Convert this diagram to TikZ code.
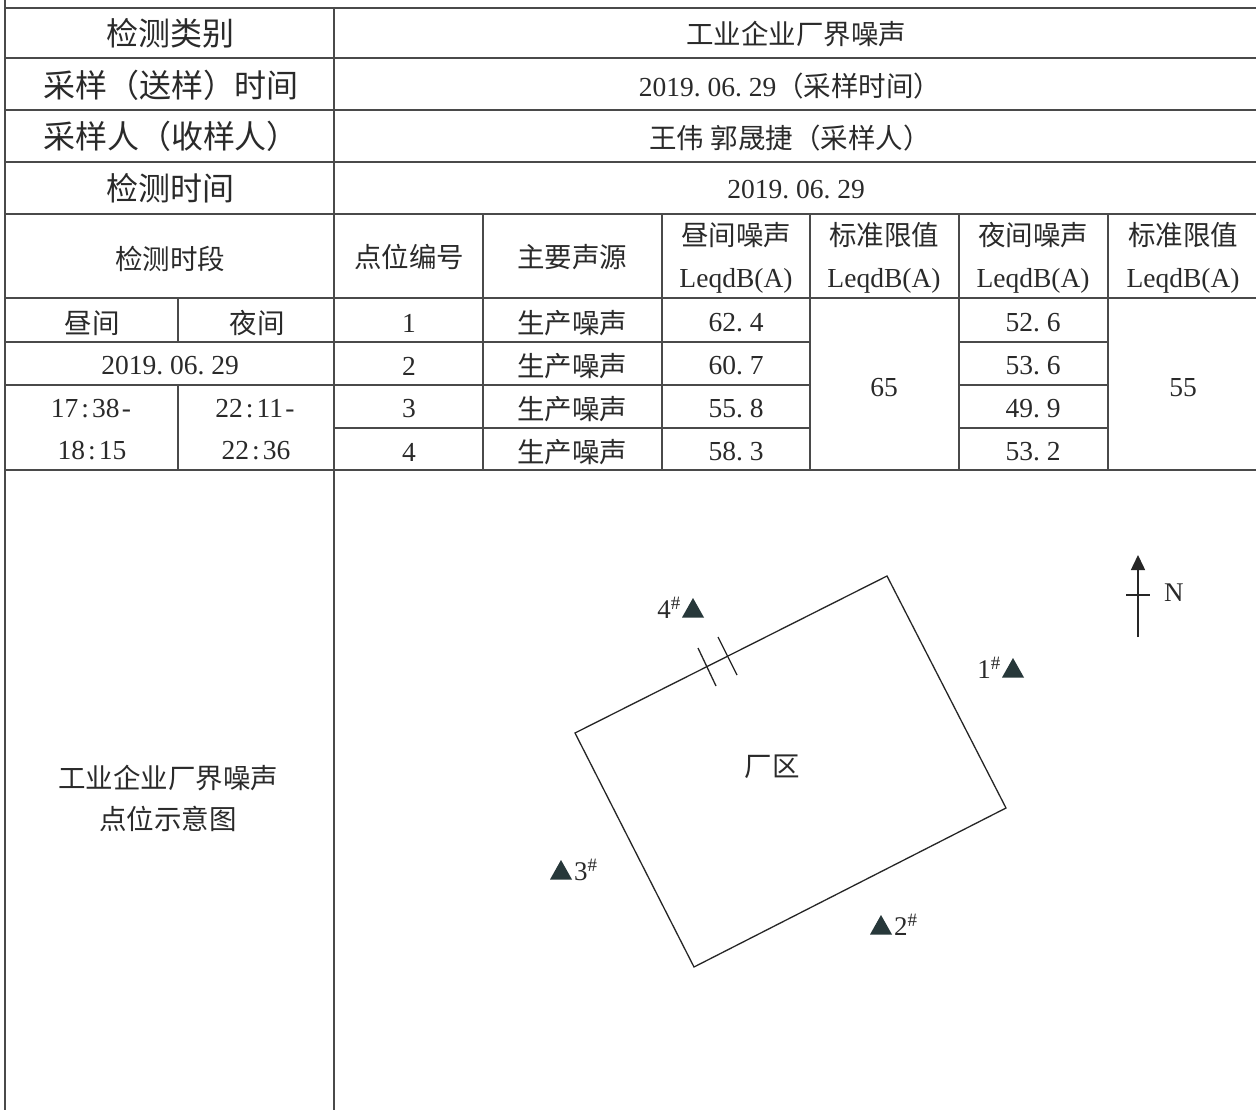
\documentclass[tikz,border=0pt]{standalone}
\usepackage{fontspec}
\setmainfont{Liberation Serif}
\newfontfamily\cjk{Noto Sans CJK SC}
\usetikzlibrary{arrows.meta}
\definecolor{ink}{HTML}{2A2A2A}
\definecolor{linegray}{HTML}{4A4A4A}
\definecolor{trifill}{HTML}{27383A}
\newcommand\dotsp{.\kern0.25em}
\newcommand\hw[1]{\makebox[0.5em]{#1}}
\newcommand\shp{\textsuperscript{\#}}
\tikzset{
  grid/.style={draw=linegray, line width=1.4pt},
  hd/.style={font=\cjk\fontsize{32}{38}\selectfont, text=ink, inner sep=0pt},
  tx/.style={font=\cjk\fontsize{27.5}{33}\selectfont, text=ink, inner sep=0pt},
  num/.style={font=\fontsize{27.5}{33}\selectfont, text=ink, inner sep=0pt},
  two/.style={font=\fontsize{27.5}{42}\selectfont, text=ink, inner sep=0pt, align=center},
  tri/.style={fill=trifill},
  plan/.style={draw=black!85, line width=1.3pt},
  lab/.style={font=\fontsize{27}{32}\selectfont, text=ink, inner sep=0pt}
}
\begin{document}
\begin{tikzpicture}[x=1pt,y=-1pt]
\useasboundingbox (0,0) rectangle (1256,1110);
\fill[white] (0,0) rectangle (1256,1110);

% ---------- table grid ----------
\draw[grid] (5,0) -- (5,1110);
\draw[grid] (334,8) -- (334,1110);
\foreach \yy in {8,58,110,162,214,298,470} \draw[grid] (5,\yy) -- (1256,\yy);
\draw[grid] (5,342) -- (810,342);
\draw[grid] (959,342) -- (1108,342);
\draw[grid] (5,385) -- (810,385);
\draw[grid] (959,385) -- (1108,385);
\draw[grid] (334,428) -- (810,428);
\draw[grid] (959,428) -- (1108,428);
\foreach \xx in {483,662,810,959,1108} \draw[grid] (\xx,214) -- (\xx,470);
\draw[grid] (178,298) -- (178,342);
\draw[grid] (178,385) -- (178,470);

% ---------- top rows ----------
\node[hd] (h1) at (170,33) {检测类别};
\node[hd] (h2) at (171,85) {采样（送样）时间};
\node[hd] (h3) at (171,136) {采样人（收样人）};
\node[hd] (h4) at (170,188) {检测时间};
\node[tx] (v1) at (796,34) {工业企业厂界噪声};
\node[num] (v2) at (790,86) {2019\dotsp 06\dotsp 29{\cjk（采样时间）}};
\node[tx] (v3) at (790,138) {王伟 郭晟捷（采样人）};
\node[num] (v4) at (796,190) {2019\dotsp 06\dotsp 29};

% ---------- header row ----------
\node[tx] (c1) at (170,259) {检测时段};
\node[tx] (c2) at (409,257) {点位编号};
\node[tx] (c3) at (572,257) {主要声源};
\node[two] (c4) at (736,258) {{\cjk 昼间噪声}\\LeqdB(A)};
\node[two] (c5) at (884,258) {{\cjk 标准限值}\\LeqdB(A)};
\node[two] (c6) at (1033,258) {{\cjk 夜间噪声}\\LeqdB(A)};
\node[two] (c7) at (1183,258) {{\cjk 标准限值}\\LeqdB(A)};

% ---------- data rows ----------
\node[tx] (d1) at (92,323) {昼间};
\node[tx] (n1) at (257,323) {夜间};
\node[num] (dd) at (170,366) {2019\dotsp 06\dotsp 29};
\node[two] (dt) at (92,430) {17\hw{:}38\hw{-}\\18\hw{:}15};
\node[two] (nt) at (256,430) {22\hw{:}11\hw{-}\\22\hw{:}36};
\foreach \i/\yy/\dv/\nv in {1/323/62\dotsp 4/52\dotsp 6, 2/366/60\dotsp 7/53\dotsp 6, 3/409/55\dotsp 8/49\dotsp 9, 4/452/58\dotsp 3/53\dotsp 2}{
  \node[num] (p\i) at (409,\yy) {\i};
  \node[tx] (s\i) at (572,\yy) {生产噪声};
  \node[num] (dv\i) at (736,\yy) {\dv};
  \node[num] (nv\i) at (1033,\yy) {\nv};
}
\node[num] (lim1) at (884,388) {65};
\node[num] (lim2) at (1183,388) {55};

% ---------- bottom section ----------
\node[tx, align=center, font=\cjk\fontsize{27.5}{41}\selectfont] (blab) at (168,798) {工业企业厂界噪声\\点位示意图};

% plant boundary
\coordinate (ra) at (887,576);
\coordinate (rb) at (1006,808);
\coordinate (rc) at (694,967);
\coordinate (rd) at (575,733);
\draw[plan, line join=miter] (ra) -- (rb) -- (rc) -- (rd) -- cycle;
% gate ticks
\coordinate (g1a) at (698,648); \coordinate (g1b) at (716,686);
\coordinate (g2a) at (718,637); \coordinate (g2b) at (737,675);
\draw[plan] (g1a) -- (g1b);
\draw[plan] (g2a) -- (g2b);
\node[tx] (zone) at (772,767) {厂区};

% measurement points
\coordinate (m1) at (1013,668);
\coordinate (m2) at (881,925);
\coordinate (m3) at (561,870);
\coordinate (m4) at (693,608);
\foreach \m in {m1,m2,m3,m4}
  \fill[tri] (\m) ++(-11,9.5) -- ++(22,0) -- ++(-11,-19.5) -- cycle;
\node[lab, anchor=east] (l1) at (1001,668) {1\shp};
\node[lab, anchor=west] (l2) at (894,925) {2\shp};
\node[lab, anchor=west] (l3) at (574,870) {3\shp};
\node[lab, anchor=east] (l4) at (681,608) {4\shp};

% north arrow
\coordinate (nb) at (1138,637);
\coordinate (nt) at (1138,555);
\draw[line width=1.5pt, draw=black!85, -{Triangle[width=14pt,length=15pt]}] (nb) -- (nt);
\coordinate (nxa) at (1126,595);
\coordinate (nxb) at (1150,595);
\draw[line width=1.3pt, draw=black!85] (nxa) -- (nxb);
\node[lab, anchor=west] (north) at (1164,593) {N};
\end{tikzpicture}
\end{document}
